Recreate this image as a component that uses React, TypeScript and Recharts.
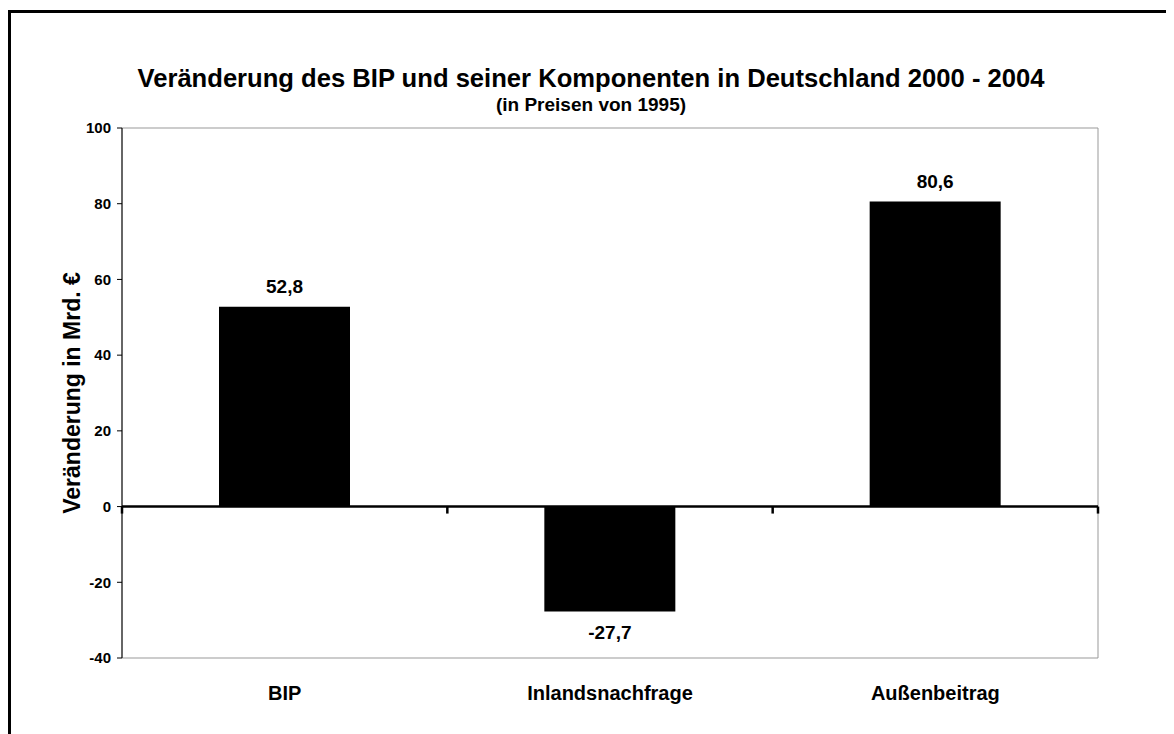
import React from 'react';
import { BarChart, Bar, XAxis, YAxis, ReferenceLine, ReferenceArea, LabelList, Label } from 'recharts';

const categories = ['BIP', 'Inlandsnachfrage', 'Außenbeitrag'];
const values = [52.8, -27.7, 80.6];
const yTicks = [-40, -20, 0, 20, 40, 60, 80, 100];
const title = 'Veränderung des BIP und seiner Komponenten in Deutschland 2000 - 2004';
const subtitle = '(in Preisen von 1995)';
const yLabel = 'Veränderung in Mrd. €';

const data = categories.map((c, i) => ({ name: c, value: values[i] }));
const FONT = 'Arial, "Liberation Sans", Helvetica, sans-serif';
const fmt = (v: number) => String(v).replace('.', ',');

const BarValueLabel = (props: any) => {
  const { x, y, width, height, value } = props;
  const top = Math.min(y, y + height);
  const bottom = Math.max(y, y + height);
  const cx = x + width / 2;
  const ty = value >= 0 ? top - 20 : bottom + 21;
  return (
    <text x={cx} y={ty} textAnchor="middle" dominantBaseline="central" fontFamily={FONT} fontWeight="bold" fontSize={19} fill="#000">
      {fmt(value)}
    </text>
  );
};

const ZeroAxisTicks = (props: any) => {
  const vb = props.viewBox || {};
  const n = categories.length;
  return (
    <g>
      {Array.from({ length: n + 1 }, (_, i) => {
        const x = vb.x + (vb.width * i) / n;
        return <line key={i} x1={x} x2={x} y1={vb.y} y2={vb.y + 7} stroke="#000" strokeWidth={2.5} />;
      })}
    </g>
  );
};

const YAxisTitle = (props: any) => {
  const vb = props.viewBox || {};
  const x = vb.x + 30;
  const y = vb.y + vb.height / 2;
  return (
    <text x={x} y={y} transform={`rotate(-90, ${x}, ${y})`} textAnchor="middle" dominantBaseline="central" fontFamily={FONT} fontWeight="bold" fontSize={23} fill="#000">
      {yLabel}
    </text>
  );
};

export default function App() {
  return (
    <div style={{ position: 'relative', width: 1166, height: 726, background: '#fff' }}>
      <style>{`body{overflow:hidden;background:#fff}`}</style>
      <div style={{ position: 'absolute', left: 0, top: 2, width: 1166, height: 724, borderLeft: '3px solid #000', borderTop: '3px solid #000', boxSizing: 'border-box' }} />
      <div style={{ position: 'absolute', left: 0, top: 55, width: 1166, textAlign: 'center', fontFamily: FONT, fontWeight: 'bold', fontSize: 25.6, color: '#000', lineHeight: '30px', whiteSpace: 'nowrap' }}>
        {title}
      </div>
      <div style={{ position: 'absolute', left: 0, top: 86, width: 1166, textAlign: 'center', fontFamily: FONT, fontWeight: 'bold', fontSize: 19, color: '#000', lineHeight: '22px', whiteSpace: 'nowrap' }}>
        {subtitle}
      </div>
      <div style={{ position: 'absolute', left: 0, top: 0 }}>
        <BarChart width={1166} height={726} data={data} margin={{ top: 120, right: 76, bottom: 0, left: 34 }} barSize={131}>
          <ReferenceArea y1={-40} y2={100} fill="none" stroke="#999" strokeWidth={1} ifOverflow="visible" />
          <XAxis dataKey="name" axisLine={false} tickLine={false} tickSize={0} tickMargin={28} height={76} interval={0}
            tick={{ fontFamily: FONT, fontWeight: 'bold', fontSize: 20, fill: '#000' }} />
          <YAxis type="number" domain={[-40, 100]} ticks={yTicks} width={80} interval={0}
            axisLine={{ stroke: '#000', strokeWidth: 1 }} tickLine={{ stroke: '#000' }} tickSize={5} tickMargin={6}
            tick={{ fontFamily: FONT, fontWeight: 'bold', fontSize: 15, fill: '#000' }}>
            <Label content={<YAxisTitle />} />
          </YAxis>
          <Bar dataKey="value" fill="#000" isAnimationActive={false}>
            <LabelList dataKey="value" content={<BarValueLabel />} />
          </Bar>
          <ReferenceLine y={0} stroke="#000" strokeWidth={2.5} label={<ZeroAxisTicks />} />
        </BarChart>
      </div>
    </div>
  );
}
